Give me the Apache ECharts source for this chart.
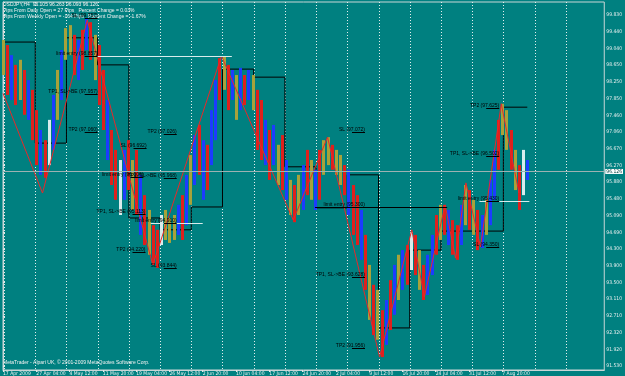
<!DOCTYPE html>
<html>
<head>
<meta charset="utf-8">
<script src="https://cdn.jsdelivr.net/npm/echarts@6/dist/echarts.min.js"></script>
<style>
  html, body { margin: 0; padding: 0; background: #008080; }
  #chart { width: 625px; height: 376px; }
</style>
</head>
<body>
<div id="chart"></div>
<script>
// USDJPY H4, mid April to mid August 2009 (x = bar index, 4 bars per drawn stroke)
const barStep = 4;
const barHigh = [
  99.24, 99.12, 98.88, 98.65, 98.77, 98.53, 98.29, 98.06, 97.58, 97.11,
  96.87, 97.35, 97.94, 98.53, 99.00, 99.52, 99.59, 99.36, 99.24, 99.48,
  99.76, 99.66, 99.36, 99.12, 98.53, 97.82, 97.11, 96.64, 96.40, 96.64,
  96.87, 96.40, 96.64, 96.05, 95.57, 95.22, 94.86, 94.75, 95.10, 95.22,
  95.03, 95.10, 95.34, 95.57, 96.05, 96.52, 96.99, 97.23, 96.87, 96.76,
  97.58, 98.29, 98.81, 98.86, 98.65, 98.53, 98.41, 98.58, 98.41, 98.53,
  98.41, 98.06, 97.82, 97.35, 97.11, 97.23, 96.76, 96.99, 96.40, 95.93,
  95.81, 96.05, 96.28, 96.64, 96.40, 96.17, 96.64, 96.87, 96.94, 96.76,
  96.64, 96.52, 96.28, 96.17, 95.81, 95.57, 95.22, 94.63, 93.92, 93.45,
  93.33, 92.85, 93.09, 93.56, 93.92, 94.16, 94.27, 94.39, 94.70, 94.63,
  94.27, 93.92, 94.16, 94.63, 95.10, 95.34, 95.34, 95.22, 94.98, 94.86,
  95.34, 95.81, 95.69, 95.46, 95.22, 95.10, 95.46, 95.93, 96.64, 97.35,
  97.73, 97.58, 97.11, 96.64, 96.28, 96.64, 96.40
];
const barLow = [
  98.41, 97.94, 97.82, 97.70, 97.82, 97.47, 97.35, 96.87, 96.28, 96.05,
  95.98, 96.28, 96.64, 97.35, 97.82, 98.77, 98.88, 98.41, 98.29, 98.53,
  99.00, 98.77, 98.29, 97.70, 97.11, 96.40, 95.81, 95.46, 95.10, 95.46,
  95.69, 95.22, 95.10, 94.63, 94.39, 94.16, 93.92, 93.85, 94.39, 94.51,
  94.44, 94.51, 94.63, 94.51, 94.86, 95.34, 95.81, 96.05, 95.46, 95.69,
  96.28, 96.87, 97.82, 98.06, 97.58, 97.82, 97.35, 97.58, 97.70, 97.82,
  97.58, 96.64, 96.40, 96.28, 95.93, 96.28, 95.81, 95.69, 95.46, 95.10,
  94.93, 95.10, 95.22, 95.57, 95.46, 95.22, 95.46, 96.05, 96.28, 96.17,
  96.05, 95.81, 95.57, 95.10, 94.63, 94.39, 94.04, 93.33, 92.62, 92.26,
  92.15, 91.74, 92.03, 92.38, 92.74, 93.09, 93.33, 93.45, 93.80, 93.68,
  93.33, 93.09, 93.21, 93.68, 94.16, 94.51, 94.63, 94.39, 94.16, 94.04,
  94.39, 94.86, 94.75, 94.63, 94.27, 94.32, 94.63, 94.86, 95.46, 96.17,
  96.99, 96.64, 96.17, 95.69, 95.22, 95.57, 95.93
];
// r = red, b = blue, o = olive, w = white
const barTone = ('orbrorbrrb' + 'rwboboorbr' + 'brorrbrrwb' + 'rorbrorrwo' +
  'oobrbobrbr' + 'bbrorbobrb' + 'orrbrborbo' + 'robrobroor' + 'oorbrrbror' +
  'orbrbobrwr' + 'orbbrorbrr' + 'bororbobbr' + 'oororwb').split('');

const zigzagBar = [0, 38, 81, 144, 210, 279, 312, 362, 393, 405, 425, 435, 445, 459, 479, 496];
const zigzagPrice = [97.98, 95.62, 99.71, 93.92, 98.86, 94.98, 96.94, 91.74, 94.75, 93.16,
  95.34, 94.08, 95.86, 94.35, 97.73, 95.62];

const weekStart = [1, 31, 61, 91, 121, 151, 181, 211, 241, 271, 301, 331, 361, 391, 421, 451, 481];
const weekLevel = [99.19, 96.80, 99.29, 98.65, 95.03, 94.75, 95.29, 98.55, 98.36, 96.24,
  95.27, 96.05, 92.43, 94.27, 94.72, 94.72, 97.65];
const gridBars = [1, 31, 61, 91, 121, 151, 181, 211, 241, 271, 301, 331, 361, 391, 421, 451, 481, 511, 541];

const entryFrom = [82, 142, 300, 458];
const entryTo = [220, 192, 427, 506];
const entryPrice = [98.857, 94.910, 95.300, 95.430];
const entryTone = ['w', 'w', 'k', 'w'];

const noteText = [
  'SL (99.757)', 'limit entry (98.857)', 'TP1, SL->BE (97.957)', 'TP2 (97.060)',
  'TP2 (97.026)', 'SL (96.692)', 'TP1, SL->BE (95.968)', 'limit entry (96.006)',
  'TP1, SL->BE (95.113)', 'limit entry (94.910)', 'TP2 (94.220)', 'SL (93.844)',
  'SL (97.072)', 'limit entry (95.300)', 'TP1, SL->BE (93.628)', 'TP2 (91.956)',
  'TP2 (97.625)', 'TP1, SL->BE (96.502)', 'limit entry (95.430)', 'SL (94.350)'
];
const noteBar = [91, 91, 91, 91, 167, 138, 167, 135, 137, 167, 137, 167,
  348, 348, 348, 348, 477, 477, 477, 477];
const notePrice = [99.757, 98.857, 97.957, 97.060, 97.026, 96.692, 95.968, 96.006,
  95.113, 94.910, 94.220, 93.844, 97.072, 95.300, 93.628, 91.956,
  97.625, 96.502, 95.430, 94.350];

const priceTicks = [91.530, 91.920, 92.320, 92.710, 93.110, 93.500, 93.900, 94.300,
  94.690, 95.090, 95.480, 95.880, 96.270, 96.670, 97.060, 97.460, 97.850, 98.250,
  98.650, 99.040, 99.440, 99.830];
const timeLabels = ['17 Apr 2009', '27 Apr 04:00', '4 May 12:00', '11 May 20:00',
  '19 May 04:00', '26 May 12:00', '2 Jun 20:00', '10 Jun 04:00', '17 Jun 12:00',
  '24 Jun 20:00', '2 Jul 04:00', '9 Jul 12:00', '16 Jul 20:00', '24 Jul 04:00',
  '31 Jul 12:00', '7 Aug 20:00'];
const labelBars = [0, 32, 64, 96, 128, 160, 192, 224, 256, 288, 320, 352, 384, 416, 448, 480];

const lastOHLC = [96.105, 96.263, 96.093, 96.126];
const pipInfo = ['Pips From Daily Open = 27 Pips   Percent Change = 0.03%',
  'Pips From Weekly Open = -164 Pips   Percent Change = -1.67%'];

const toneColor = { r: '#e0201c', b: '#1c3cff', o: '#a8a23a', w: '#d8ecec', k: '#000000' };
const tiny = '"Liberation Sans Narrow", "DejaVu Sans Condensed", sans-serif';
const small = '"Liberation Sans", Arial, sans-serif';
const yMin = 91.435, yMax = 100.137;

const lastBar = (barHigh.length - 1) * barStep;
const weekLine = [];
weekStart.forEach((s, k) => {
  const e = k + 1 < weekStart.length ? weekStart[k + 1] : lastBar;
  weekLine.push([k === 0 ? 0 : s, weekLevel[k]], [e, weekLevel[k]]);
});

var chart = echarts.init(document.getElementById('chart'));
var option = {
  backgroundColor: '#008080',
  animation: false,
  grid: { left: 2, right: 20, top: 2, bottom: 6, show: true, borderColor: '#c9d6d6', borderWidth: 1 },
  xAxis: {
    type: 'value', min: 0, max: 578,
    axisLine: { lineStyle: { color: '#c9d6d6' } },
    splitLine: { show: false },
    axisTick: { customValues: labelBars, length: 2, lineStyle: { color: '#e0e8e8' } },
    axisLabel: {
      customValues: labelBars, align: 'left', margin: 1, fontSize: 5, lineHeight: 5,
      fontFamily: tiny, color: '#e8eeee',
      formatter: v => timeLabels[labelBars.indexOf(v)] || ''
    }
  },
  yAxis: {
    type: 'value', position: 'right', min: yMin, max: yMax,
    axisLine: { show: true, lineStyle: { color: '#c9d6d6' } },
    splitLine: { show: false },
    axisTick: { show: true, customValues: priceTicks, length: 2, lineStyle: { color: '#e0e8e8' } },
    axisLabel: {
      customValues: priceTicks, margin: 2, fontSize: 5, fontFamily: tiny, color: '#e8eeee',
      formatter: v => v.toFixed(3)
    }
  },
  graphic: [
    { type: 'text', left: 3, top: 2, style: { text: 'USDJPY,H4  ' + lastOHLC.map(v => v.toFixed(3)).join(' '), fill: '#f2f2f2', font: '5px ' + small } },
    { type: 'text', left: 3, top: 8, style: { text: pipInfo[0], fill: '#f2f2f2', font: '5px ' + small } },
    { type: 'text', left: 3, top: 14, style: { text: pipInfo[1], fill: '#f2f2f2', font: '5px ' + small } },
    { type: 'text', left: 3, top: 360, style: { text: 'MetaTrader - Alpari UK, \u00a9 2001-2009 MetaQuotes Software Corp.', fill: '#f2f2f2', font: '5px ' + small } }
  ],
  series: [
    {
      // weekly grid
      type: 'custom', z: 1, silent: true,
      data: gridBars.map(b => [b, yMin]),
      renderItem(params, api) {
        const cs = params.coordSys;
        const x = Math.round(api.coord([api.value(0), yMin])[0]) + 0.5;
        return { type: 'line', shape: { x1: x, y1: cs.y, x2: x, y2: cs.y + cs.height },
          style: { stroke: '#e4eeee', lineWidth: 1, lineDash: [1, 2] } };
      }
    },
    {
      type: 'line', z: 2, data: weekLine, symbol: 'none', silent: true,
      lineStyle: { color: '#000', width: 1 }
    },
    {
      // price strokes
      type: 'custom', z: 3,
      data: barHigh.map((h, i) => [i * barStep, barLow[i], h, 'rbowk'.indexOf(barTone[i])]),
      renderItem(params, api) {
        const top = api.coord([api.value(0), api.value(2)]);
        const bot = api.coord([api.value(0), api.value(1)]);
        const tone = 'rbowk'[api.value(3)];
        return { type: 'rect', shape: { x: Math.round(top[0]) - 1, y: top[1], width: 3, height: bot[1] - top[1] },
          style: { fill: toneColor[tone] } };
      }
    },
    {
      type: 'line', z: 4, data: zigzagBar.map((b, i) => [b, zigzagPrice[i]]),
      symbol: 'none', lineStyle: { color: '#e8282a', width: 1 },
      markLine: {
        silent: true, symbol: 'none',
        lineStyle: { color: '#9cb2b2', type: 'solid', width: 1 },
        label: { position: 'end', distance: 1, formatter: () => lastOHLC[3].toFixed(3),
          backgroundColor: '#ffffff', color: '#004040', fontSize: 5, fontFamily: tiny, padding: [0, 1] },
        data: [{ yAxis: lastOHLC[3] }]
      }
    },
    {
      // entry levels
      type: 'custom', z: 5,
      data: entryFrom.map((f, i) => [f, entryTo[i], entryPrice[i], 'rbowk'.indexOf(entryTone[i])]),
      renderItem(params, api) {
        const a = api.coord([api.value(0), api.value(2)]);
        const b = api.coord([api.value(1), api.value(2)]);
        const y = Math.round(a[1]) + 0.5;
        return { type: 'line', shape: { x1: a[0], y1: y, x2: b[0], y2: y },
          style: { stroke: toneColor['rbowk'[api.value(3)]], lineWidth: 1 } };
      }
    },
    {
      // trade notes
      type: 'custom', z: 6,
      data: noteBar.map((b, i) => [b, notePrice[i], i]),
      renderItem(params, api) {
        const p = api.coord([api.value(0), api.value(1)]);
        const y = Math.round(p[1]) + 0.5;
        return { type: 'group', children: [
          { type: 'line', shape: { x1: p[0] - 13, y1: y, x2: p[0], y2: y }, style: { stroke: '#000', lineWidth: 1 } },
          { type: 'text', x: p[0], y: y - 0.5, style: { text: noteText[api.value(2)], fill: '#000',
            font: '5px ' + small, textAlign: 'right', textVerticalAlign: 'bottom' } }
        ] };
      }
    }
  ]
};
option && chart.setOption(option);
</script>
</body>
</html>
